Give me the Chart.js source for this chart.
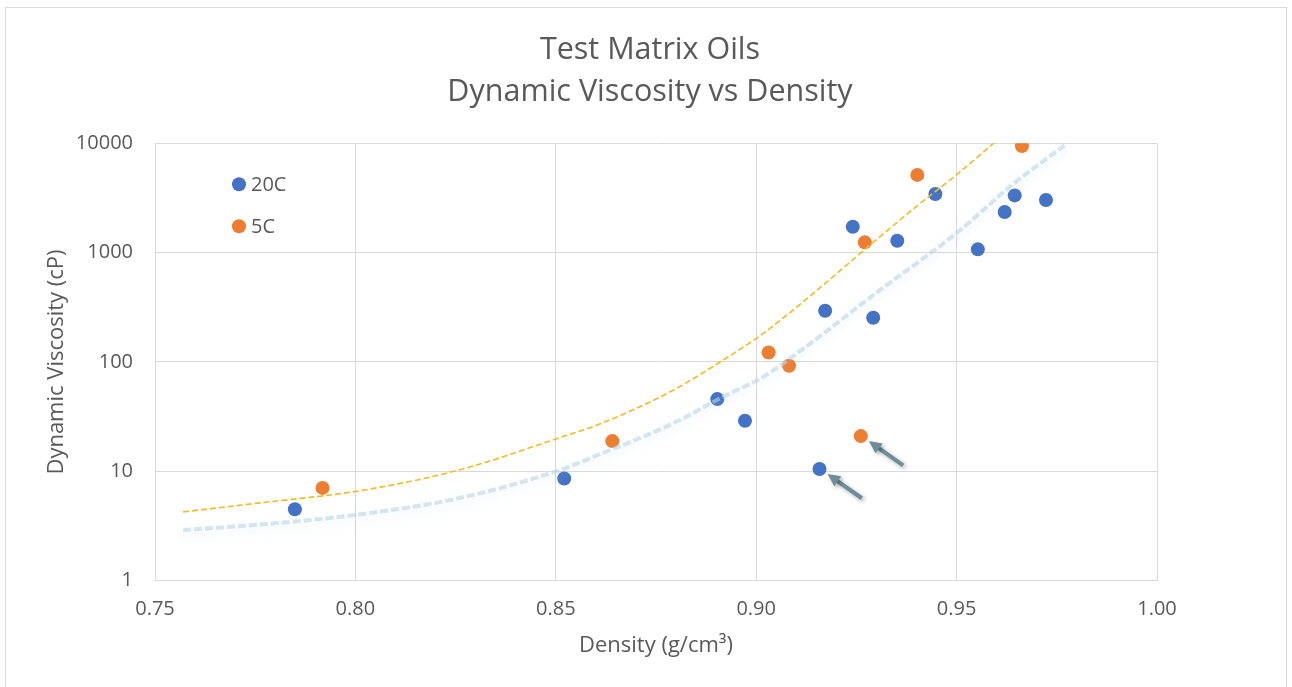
<!DOCTYPE html>
<html>
<head>
<meta charset="utf-8">
<script src="https://cdn.jsdelivr.net/npm/chart.js@4/dist/chart.umd.min.js"></script>
<style>
    html, body { margin: 0; padding: 0; background: #fff; overflow: hidden; }
    #grafica { display: block; }
</style>
</head>
<body>
<canvas id="grafica" width="1292" height="687"></canvas>
<script>
// 20C series
const densidad20 = [0.7849, 0.8521, 0.8903, 0.8972, 0.9158, 0.9172, 0.9241, 0.9292, 0.9352, 0.9447, 0.9553, 0.9620, 0.9645, 0.9723];
const viscosidad20 = [4.5, 8.6, 45.8, 29.0, 10.5, 294, 1726, 254, 1285, 3440, 1072, 2350, 3340, 3030];

// 5C series
const densidad5 = [0.7918, 0.8641, 0.9031, 0.9082, 0.9261, 0.9271, 0.9402, 0.9663];
const viscosidad5 = [7.06, 18.9, 122, 92.3, 21.0, 1242, 5140, 9450];

// trend curves
const tendencia5X = [0.757, 0.7763, 0.8017, 0.8263, 0.8504, 0.8613, 0.8792, 0.8917, 0.9017, 0.9125, 0.9275, 0.94, 0.9504, 0.9592, 0.966];
const tendencia5Y = [4.26, 5.15, 6.7, 10.4, 20, 27.4, 55, 104, 182, 375, 1100, 2650, 5300, 10000, 16300];
const tendencia20X = [0.757, 0.78, 0.80, 0.825, 0.8504, 0.8613, 0.8792, 0.8917, 0.9017, 0.9125, 0.93, 0.9504, 0.9638, 0.977];
const tendencia20Y = [2.9, 3.35, 4.0, 5.6, 10.1, 14.5, 27.4, 48, 73, 139, 430, 1555, 4150, 9600];

// axis ticks
const ticksY = [1, 10, 100, 1000, 10000];
const ticksX = [0.75, 0.80, 0.85, 0.90, 0.95, 1.00];

// points marked with an arrow: [series, index]
const marcados = [['20C', 4], ['5C', 4]];

const GRIS = '#595959';
const FUENTE = "'Open Sans', sans-serif";

function puntos(xs, ys) {
    return xs.map((x, i) => ({ x: x, y: ys[i] }));
}

// outer frame of the chart
const marco = {
    id: 'marco',
    beforeDraw(chart) {
        const ctx = chart.ctx;
        ctx.save();
        ctx.fillStyle = '#fff';
        ctx.fillRect(0, 0, chart.width, chart.height);
        ctx.strokeStyle = '#d9d9d9';
        ctx.lineWidth = 1;
        ctx.strokeRect(5.5, 7.5, chart.width - 11, chart.height + 10);
        ctx.restore();
    }
};

// soft glow under the 20C trend line
const sombra = {
    id: 'sombra',
    beforeDatasetDraw(chart, args) {
        if (args.meta.label !== 'tendencia 20C') return;
        const ctx = chart.ctx;
        ctx.save();
        ctx.shadowColor = 'rgba(170, 200, 220, 0.45)';
        ctx.shadowBlur = 8;
        ctx.shadowOffsetY = 4;
    },
    afterDatasetDraw(chart, args) {
        if (args.meta.label !== 'tendencia 20C') return;
        chart.ctx.restore();
    }
};

// legend inside the plot, top left
const leyenda = {
    id: 'leyenda',
    afterDraw(chart) {
        const ctx = chart.ctx;
        const area = chart.chartArea;
        const series = chart.data.datasets.filter(d => d.showLine !== true);
        ctx.save();
        series.forEach((d, i) => {
            const x = area.left + 84;
            const y = area.top + 41 + i * 42;
            ctx.beginPath();
            ctx.arc(x, y, 7, 0, Math.PI * 2);
            ctx.fillStyle = d.backgroundColor;
            ctx.fill();
            ctx.fillStyle = GRIS;
            ctx.font = '20px ' + FUENTE;
            ctx.textBaseline = 'middle';
            ctx.fillText(d.label, x + 12, y + 1);
        });
        ctx.restore();
    }
};

// arrows pointing at the marked points
const flechas = {
    id: 'flechas',
    afterDatasetsDraw(chart) {
        const ctx = chart.ctx;
        const sx = chart.scales.x;
        const sy = chart.scales.y;
        ctx.save();
        ctx.strokeStyle = '#6f8c99';
        ctx.fillStyle = '#6f8c99';
        ctx.shadowColor = 'rgba(0, 0, 0, 0.3)';
        ctx.shadowBlur = 4;
        ctx.shadowOffsetX = 2;
        ctx.shadowOffsetY = 2;
        marcados.forEach(([serie, idx]) => {
            const d = chart.data.datasets.find(ds => ds.label === serie);
            const p = d.data[idx];
            const px = sx.getPixelForValue(p.x);
            const py = sy.getPixelForValue(p.y);
            const tipX = px + 8, tipY = py + 5;
            const ang = Math.atan2(24, 34);
            const len = 42;
            const endX = tipX + Math.cos(ang) * len;
            const endY = tipY + Math.sin(ang) * len;
            ctx.lineWidth = 4;
            ctx.beginPath();
            ctx.moveTo(tipX + Math.cos(ang) * 10, tipY + Math.sin(ang) * 10);
            ctx.lineTo(endX, endY);
            ctx.stroke();
            ctx.beginPath();
            ctx.moveTo(tipX, tipY);
            ctx.lineTo(tipX + Math.cos(ang + 0.45) * 14, tipY + Math.sin(ang + 0.45) * 14);
            ctx.lineTo(tipX + Math.cos(ang - 0.45) * 14, tipY + Math.sin(ang - 0.45) * 14);
            ctx.closePath();
            ctx.fill();
        });
        ctx.restore();
    }
};

function inicializarGrafica() {
    const ctx = document.getElementById('grafica').getContext('2d');

    new Chart(ctx, {
        type: 'scatter',
        data: {
            datasets: [
                {
                    label: 'tendencia 5C',
                    data: puntos(tendencia5X, tendencia5Y),
                    showLine: true,
                    borderColor: '#f5b921',
                    borderWidth: 1.6,
                    borderDash: [6, 3],
                    pointRadius: 0,
                    cubicInterpolationMode: 'monotone',
                    order: 0
                },
                {
                    label: 'tendencia 20C',
                    data: puntos(tendencia20X, tendencia20Y),
                    showLine: true,
                    borderColor: 'rgba(185, 213, 232, 0.6)',
                    borderWidth: 4,
                    borderDash: [8, 3],
                    pointRadius: 0,
                    cubicInterpolationMode: 'monotone',
                    order: 0
                },
                {
                    label: '20C',
                    data: puntos(densidad20, viscosidad20),
                    backgroundColor: '#4472c4',
                    borderWidth: 0,
                    pointRadius: 7,
                    order: 1
                },
                {
                    label: '5C',
                    data: puntos(densidad5, viscosidad5),
                    backgroundColor: '#ed7d31',
                    borderWidth: 0,
                    pointRadius: 7,
                    order: 1
                }
            ]
        },
        options: {
            responsive: false,
            animation: false,
            events: [],
            layout: {
                padding: { left: 8, right: 0, top: 26, bottom: 20 }
            },
            scales: {
                x: {
                    type: 'linear',
                    min: 0.75,
                    max: 1.0,
                    afterBuildTicks: scale => { scale.ticks = ticksX.map(v => ({ value: v })); },
                    afterFit: scale => { scale.height = 687 - 580.7 - 20; },
                    grid: { color: '#d9d9d9', drawTicks: false },
                    border: { color: '#d9d9d9' },
                    ticks: {
                        color: GRIS,
                        font: { family: FUENTE, size: 20 },
                        padding: 17,
                        callback: v => v.toFixed(2)
                    },
                    title: {
                        display: true,
                        text: 'Density (g/cm³)',
                        color: GRIS,
                        font: { family: FUENTE, size: 22 },
                        padding: { top: 0, bottom: 8 }
                    }
                },
                y: {
                    type: 'logarithmic',
                    min: 1,
                    max: 10000,
                    afterBuildTicks: scale => { scale.ticks = ticksY.map(v => ({ value: v })); },
                    afterFit: scale => { scale.width = 147; },
                    grid: { color: '#d9d9d9', drawTicks: false },
                    border: { color: '#d9d9d9' },
                    ticks: {
                        color: GRIS,
                        font: { family: FUENTE, size: 20 },
                        padding: 22,
                        callback: v => String(v)
                    },
                    title: {
                        display: true,
                        text: 'Dynamic Viscosity (cP)',
                        color: GRIS,
                        font: { family: FUENTE, size: 22 },
                        padding: { top: 36, bottom: 0 }
                    }
                },
                // empty margin on the right side of the plot
                margen: {
                    type: 'linear',
                    position: 'right',
                    afterFit: scale => { scale.width = 135; },
                    grid: { display: false },
                    border: { display: false },
                    ticks: { display: false }
                }
            },
            plugins: {
                legend: { display: false },
                tooltip: { enabled: false },
                title: {
                    display: true,
                    text: ['Test Matrix Oils', 'Dynamic Viscosity vs Density'],
                    color: GRIS,
                    font: { family: FUENTE, size: 30.5, weight: 'normal', lineHeight: 1.377 },
                    padding: { top: 3.5, bottom: 29.8 }
                }
            }
        },
        plugins: [marco, sombra, leyenda, flechas]
    });
}

inicializarGrafica();
</script>
</body>
</html>
